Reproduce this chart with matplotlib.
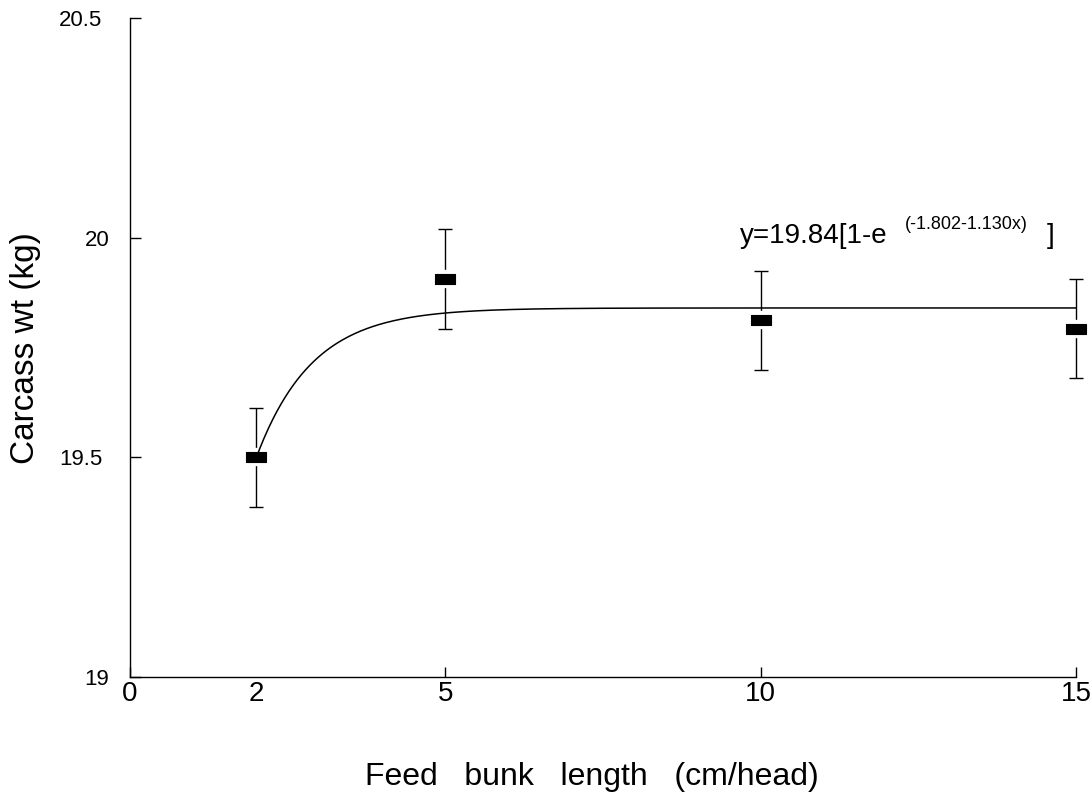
import numpy as np
import matplotlib
matplotlib.use("Agg")
import matplotlib.pyplot as plt
from matplotlib.transforms import ScaledTranslation

plt.rcParams['font.family'] = ['Liberation Sans', 'DejaVu Sans']

# Feed bunk length (cm/head) and carcass weight (kg) with error bars
bunk_length = [2, 5, 10, 15]
carcass_wt = [19.50, 19.906, 19.812, 19.793]
carcass_err = [0.112, 0.113, 0.113, 0.112]

# Fitted exponential model: y = a[1 - exp(b + c x)]
fit_a, fit_b, fit_c = 19.84, -1.802, -1.130

x_ticks = [0, 2, 5, 10, 15]
x_ticklabels = ['0', '2', '5', '10', '15']
y_ticks = [19, 19.5, 20, 20.5]
y_ticklabels = ['19', '19.5', '20', '20.5']

fig = plt.figure(figsize=(10.92, 7.96), dpi=100)
ax = fig.add_axes([130 / 1092, 1 - 677 / 796, 946 / 1092, 659 / 796])
ax.set_xlim(0, 15)
ax.set_ylim(19, 20.5)

# error bars (drawn first so the marker halo breaks the line)
ax.errorbar(bunk_length, carcass_wt, yerr=carcass_err, fmt='none',
            ecolor='black', elinewidth=1.0, capsize=4.7, capthick=1.0,
            zorder=2, clip_on=False)

rect = [(-1, -0.52), (1, -0.52), (1, 0.52), (-1, 0.52), (-1, -0.52)]
# white halo around each marker
ax.plot(bunk_length, carcass_wt, linestyle='none', marker=rect,
        markersize=15, markerfacecolor='white', markeredgecolor='white',
        markeredgewidth=6, zorder=3, clip_on=False)

# fitted curve
xs = np.linspace(bunk_length[0], bunk_length[-1], 400)
ys = fit_a * (1 - np.exp(fit_b + fit_c * xs))
ax.plot(xs, ys, color='black', linewidth=1.1, zorder=4, clip_on=False)

# black rectangular markers
ax.plot(bunk_length, carcass_wt, linestyle='none', marker=rect,
        markersize=15, markerfacecolor='black', markeredgecolor='black',
        markeredgewidth=0.8, zorder=5, clip_on=False)

for side in ('top', 'right'):
    ax.spines[side].set_visible(False)
for side in ('left', 'bottom'):
    ax.spines[side].set_linewidth(1.0)

ax.set_xticks(x_ticks)
ax.set_xticklabels(x_ticklabels, fontsize=20)
ax.set_yticks(y_ticks)
ax.set_yticklabels(y_ticklabels, fontsize=16)
ax.tick_params(axis='x', direction='in', length=7, width=1.0, pad=3)
ax.tick_params(axis='y', direction='in', length=8, width=1.0, pad=20)
# no tick mark at x = 2
ax.xaxis.get_major_ticks()[1].tick1line.set_visible(False)
# whole-number y labels sit a little further right
for tick in ax.yaxis.get_major_ticks():
    if float(tick.get_loc()).is_integer():
        tick.label1.set_transform(tick.label1.get_transform()
                                  + ScaledTranslation(5 / 72, 0, fig.dpi_scale_trans))

# equation of the fitted curve
ax.text(9.67, 19.988, 'y=19.84[1-e', fontsize=20, ha='left', va='baseline')
ax.text(12.29, 20.020, '(-1.802-1.130x)', fontsize=13, ha='left', va='baseline')
ax.text(14.54, 19.988, ']', fontsize=20, ha='left', va='baseline')

fig.text(592 / 1092, 1 - 785 / 796, 'Feed   bunk   length   (cm/head)',
         fontsize=23, ha='center', va='baseline')
fig.text(10 / 1092, 1 - 348 / 796, 'Carcass wt (kg)', fontsize=24,
         rotation=90, ha='left', va='center')

fig.savefig('out.png', dpi=100)
